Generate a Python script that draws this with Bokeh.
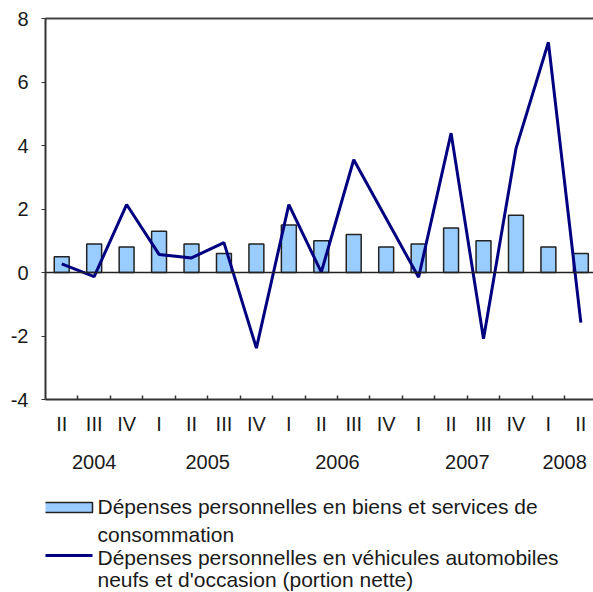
from bokeh.plotting import figure
from bokeh.layouts import column
from bokeh.core.properties import value
from bokeh.models import (ColumnDataSource, FixedTicker, LinearAxis, Range1d, Span)
from bokeh.embed import file_html
from bokeh.resources import INLINE

quarters = ["II", "III", "IV", "I", "II", "III", "IV", "I", "II", "III", "IV",
            "I", "II", "III", "IV", "I", "II"]
years = ["2004", "2005", "2006", "2007", "2008"]
year_quarter_counts = [3, 4, 4, 4, 2]
consumption = [0.5, 0.9, 0.8, 1.3, 0.9, 0.6, 0.9, 1.5, 1.0, 1.2, 0.8, 0.9, 1.4,
               1.0, 1.8, 0.8, 0.6]
vehicles = [0.27, -0.13, 2.14, 0.57, 0.46, 0.94, -2.38, 2.14, 0.01, 3.55, 1.7,
            -0.15, 4.39, -2.09, 3.9, 7.25, -1.58]
y_ticks = [-4, -2, 0, 2, 4, 6, 8]
legend_lines = ["Dépenses personnelles en biens et services de",
                "consommation",
                "Dépenses personnelles en véhicules automobiles",
                "neufs et d'occasion (portion nette)"]

FONT = "Liberation Sans"
FS = "20px"
LEG_FS = "21px"
BAR_FILL = "#99CCFF"
BAR_LINE = "#222222"
LINE_COLOR = "#000080"
TEXT_COLOR = "#1a1a1a"

x = list(range(len(quarters)))
src = ColumnDataSource(dict(x=x, cons=consumption, veh=vehicles))

p = figure(frame_width=548, frame_height=381, output_backend="svg", toolbar_location=None,
           x_range=Range1d(-0.5, 16.39), y_range=Range1d(-4, 8),
           x_axis_type=None, y_axis_type=None,
           min_border_left=45, min_border_top=18, min_border_right=0,
           min_border_bottom=81)
p.outline_line_color = None
p.grid.visible = False
p.background_fill_color = "white"
p.border_fill_color = "white"

bars = p.vbar(x="x", top="cons", bottom=0, width=0.46, source=src,
              fill_color=BAR_FILL, line_color=BAR_LINE, line_width=1.5)
p.add_layout(Span(location=0, dimension="width", line_color="#222222", line_width=1.5))
line = p.line(x="x", y="veh", source=src, line_color=LINE_COLOR, line_width=3)

# y axis
yaxis = LinearAxis(ticker=FixedTicker(ticks=y_ticks))
yaxis.major_label_overrides = {t: str(t) for t in y_ticks}
yaxis.axis_line_color = "#333333"
yaxis.axis_line_width = 2
yaxis.major_tick_line_color = "#333333"
yaxis.major_tick_in = 0
yaxis.major_tick_out = 4
yaxis.minor_tick_line_color = None
yaxis.major_label_standoff = 13
yaxis.major_label_text_font = FONT
yaxis.major_label_text_font_size = FS
yaxis.major_label_text_color = TEXT_COLOR
p.add_layout(yaxis, "left")

# top frame line
top = LinearAxis(ticker=FixedTicker(ticks=[]))
top.axis_line_color = "#444444"
top.axis_line_width = 2
top.major_label_text_font_size = "0px"
top.major_tick_line_color = None
top.minor_tick_line_color = None
p.add_layout(top, "above")

# quarter axis
qaxis = LinearAxis(ticker=FixedTicker(ticks=x, minor_ticks=[i + 0.5 for i in x[:-1]]))
qaxis.major_label_overrides = {i: q for i, q in enumerate(quarters)}
qaxis.axis_line_color = "#333333"
qaxis.axis_line_width = 2
qaxis.major_tick_line_color = None
qaxis.minor_tick_line_color = "#333333"
qaxis.minor_tick_line_width = 1.5
qaxis.minor_tick_in = 4
qaxis.minor_tick_out = 0
qaxis.major_label_standoff = 7
qaxis.major_label_text_font = FONT
qaxis.major_label_text_font_size = FS
qaxis.major_label_text_color = TEXT_COLOR
p.add_layout(qaxis, "below")

# year axis
centers = []
start = 0
for n in year_quarter_counts:
    centers.append(start + (n - 1) / 2)
    start += n
yaxis2 = LinearAxis(ticker=FixedTicker(ticks=centers))
yaxis2.major_label_overrides = {c: yv for c, yv in zip(centers, years)}
yaxis2.axis_line_color = None
yaxis2.major_tick_line_color = None
yaxis2.minor_tick_line_color = None
yaxis2.major_label_standoff = 11
yaxis2.major_label_text_font = FONT
yaxis2.major_label_text_font_size = FS
yaxis2.major_label_text_color = TEXT_COLOR
p.add_layout(yaxis2, "below")

# legend panel (its frame is aligned with the chart frame, which starts at x=45;
# x range is set so that data x equals page x, y is measured from the bottom)
LW, LH = 593, 112
lg = figure(width=LW, height=LH, output_backend="svg", toolbar_location=None,
            x_range=Range1d(45, LW), y_range=Range1d(0, LH),
            x_axis_type=None, y_axis_type=None, min_border=0)
lg.outline_line_color = None
lg.grid.visible = False
lg.background_fill_color = "white"
lg.border_fill_color = "white"
lg.quad(left=[42], right=[92], bottom=[80], top=[90],
        fill_color=BAR_FILL, line_color=BAR_LINE, line_width=1.5)
lg.line(x=[42, 92], y=[37, 37], line_color=LINE_COLOR, line_width=3)
lg.text(x=[97] * 4, y=[86, 58, 35, 13], text=legend_lines,
        text_font=value(FONT), text_font_size=value(LEG_FS), text_color=TEXT_COLOR,
        text_baseline="middle", text_align="left")

open("out.html", "w").write(file_html(column(p, lg, spacing=0), INLINE))
